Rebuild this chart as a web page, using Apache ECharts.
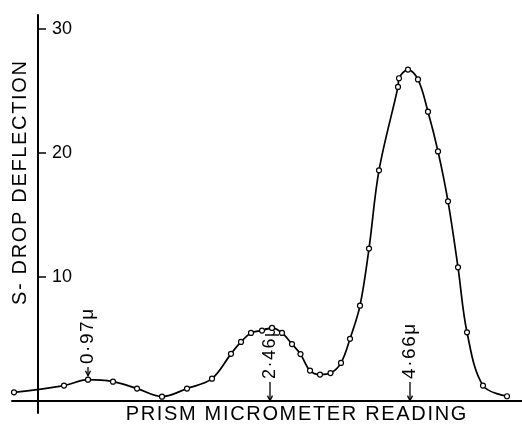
<!DOCTYPE html>
<html><head><meta charset="utf-8">
<script src="https://cdn.jsdelivr.net/npm/echarts@6/dist/echarts.min.js"></script>
<style>html,body{margin:0;padding:0;background:#fff}#c{width:522px;height:427px}</style>
</head><body><div id="c"></div>
<script>
// Prism micrometer reading (arbitrary units, y-axis at 0)
const readings = [-2.4, 2.6, 5.0, 7.5, 9.9, 12.4, 14.9, 17.4, 19.3, 20.3, 21.3, 22.4, 23.4, 24.4, 25.4, 26.25, 27.2, 28.2, 29.25, 30.3, 31.2, 32.2, 33.1, 34.1, 36.0, 36.1, 37.0, 38.0, 39.0, 40.0, 41.0, 42.0, 42.9, 44.5, 46.9];
// S-drop deflection
const deflection = [0.67, 1.21, 1.69, 1.53, 0.97, 0.32, 0.97, 1.77, 3.77, 4.73, 5.46, 5.65, 5.86, 5.46, 4.56, 3.75, 2.42, 2.10, 2.22, 3.04, 4.98, 7.66, 12.26, 18.57, 25.3, 26.0, 26.7, 25.9, 23.3, 20.1, 16.07, 10.75, 5.51, 1.21, 0.35];
const yTickValues = [10, 20, 30];
const yTickLabels = ['10', '20', '30'];
const peakLabels = ['0·97μ', '2·46μ', '4·66μ'];
const peakReadings = [5.0, 23.2, 37.2];
const arrowTips = [2.0, 0.0, 0.0];
const arrowTails = [2.7, 1.5, 1.5];
const peakFontSizes = [19, 18, 19];
const yTitle = 'S- DROP DEFLECTION';
const xTitle = 'PRISM MICROMETER READING';

const FONT = '"Liberation Sans", "DejaVu Sans", sans-serif';
const spaced = (s, sep) => s.split('').join(sep);
const chart = echarts.init(document.getElementById('c'), null, {renderer: 'canvas'});
const option = {
  animation: false,
  backgroundColor: '#fff',
  grid: {left: 12, right: 0, top: 15, bottom: 14, containLabel: false},
  xAxis: {
    type: 'value', min: -2.6, max: 48.4,
    axisLine: {show: true, onZero: true, lineStyle: {color: '#000', width: 2}},
    axisTick: {show: false}, axisLabel: {show: false}, splitLine: {show: false}
  },
  yAxis: {
    type: 'value', min: -1, max: 31.1,
    axisLine: {show: true, onZero: true, lineStyle: {color: '#000', width: 2}},
    axisTick: {show: true, inside: true, length: 8, customValues: yTickValues, lineStyle: {color: '#000', width: 1.5}},
    axisLabel: {show: false},
    splitLine: {show: false}
  },
  series: [{
    type: 'line',
    data: readings.map((x, i) => [x, deflection[i]]),
    smooth: 0.35,
    symbol: 'circle', symbolSize: 5, showAllSymbol: true,
    itemStyle: {color: '#fff', borderColor: '#000', borderWidth: 1.2},
    lineStyle: {color: '#000', width: 1.7},
    silent: true
  }]
};
chart.setOption(option);

const graphics = [];
const grid = {xAxisIndex: 0, yAxisIndex: 0};
yTickValues.forEach((v, i) => {
  const p = chart.convertToPixel(grid, [0, v]);
  graphics.push({type: 'text', x: p[0] + 14, y: p[1],
    style: {text: yTickLabels[i], font: '18px ' + FONT, fill: '#000', textAlign: 'left', textVerticalAlign: 'middle'}});
});
peakLabels.forEach((lab, i) => {
  const tip = chart.convertToPixel(grid, [peakReadings[i], arrowTips[i]]);
  const tail = chart.convertToPixel(grid, [peakReadings[i], arrowTails[i]]);
  graphics.push({type: 'line', shape: {x1: tip[0], y1: tail[1], x2: tip[0], y2: tip[1]}, style: {stroke: '#000', lineWidth: 1.3}});
  graphics.push({type: 'polyline', shape: {points: [[tip[0] - 2.5, tip[1] - 5], [tip[0], tip[1]], [tip[0] + 2.5, tip[1] - 5]]}, style: {stroke: '#000', lineWidth: 1.3, fill: null}});
  graphics.push({type: 'text', x: tip[0], y: tail[1] - 3, rotation: Math.PI / 2,
    style: {text: spaced(lab, '\u200A'), font: peakFontSizes[i] + 'px ' + FONT, fill: '#000', textAlign: 'left', textVerticalAlign: 'middle'}});
});
graphics.push({type: 'text', x: 20, y: 183, rotation: Math.PI / 2,
  style: {text: spaced(yTitle, '\u200A'), font: '20px ' + FONT, fill: '#000', textAlign: 'center', textVerticalAlign: 'middle'}});
graphics.push({type: 'text', x: 296, y: 414,
  style: {text: spaced(xTitle, '\u200A'), font: '20px ' + FONT, fill: '#000', textAlign: 'center', textVerticalAlign: 'middle'}});
chart.setOption({graphic: graphics});
</script></body></html>
